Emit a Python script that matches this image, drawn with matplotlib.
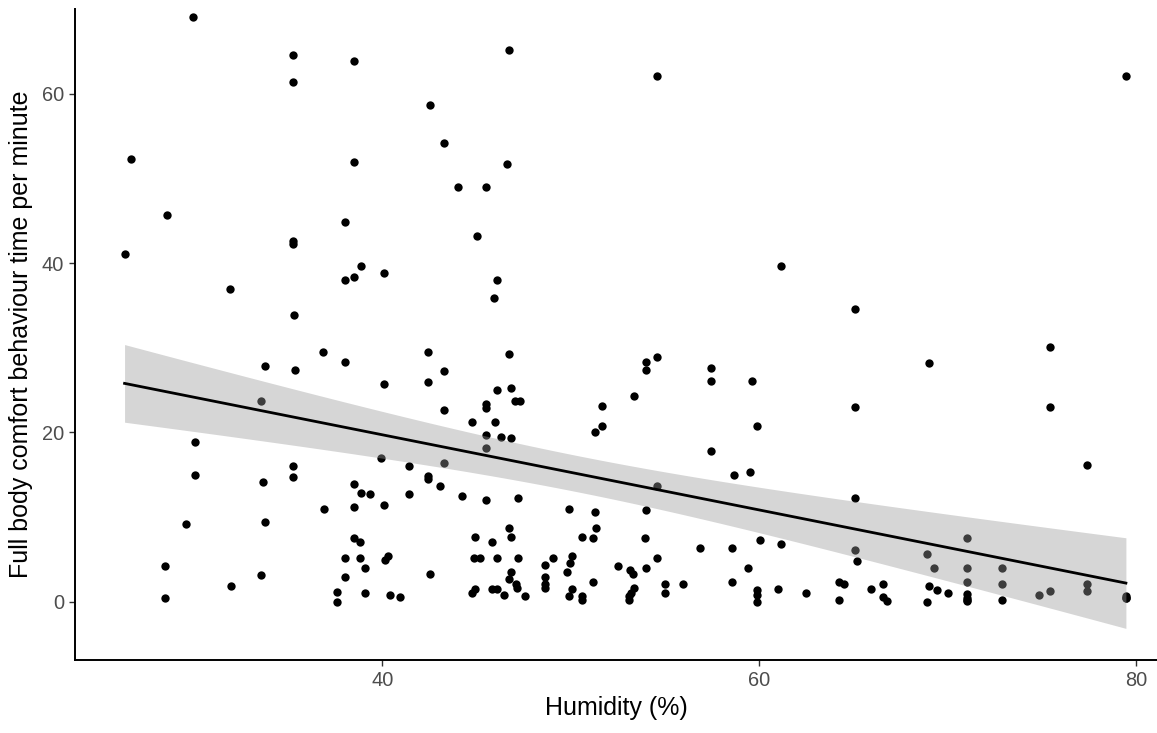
import numpy as np
import matplotlib
matplotlib.use("Agg")
import matplotlib.pyplot as plt

plt.rcParams["font.family"] = ["Liberation Sans", "DejaVu Sans"]

# humidity (%) and comfort behaviour time per minute
humidity = [
    29.95, 35.26, 38.51, 35.26, 26.68, 38.51, 28.55, 38.01, 35.26, 35.26,
    26.32, 38.89, 38.51, 38.01, 31.89, 35.30,
    46.72, 54.55, 42.53, 43.28, 46.62, 44.02, 45.51, 45.03, 40.09, 46.07, 45.94,
    61.17, 65.09, 79.45,
    36.85, 38.01, 33.77, 35.35, 33.56, 30.04, 30.04, 35.26, 35.26, 33.67,
    38.51, 38.89, 39.32, 36.91, 38.51, 29.57, 33.77, 38.51, 38.82, 38.01,
    38.82, 39.09, 28.46, 33.56, 38.01, 31.99, 37.58, 37.58, 39.09, 28.46,
    42.43, 46.71, 43.28, 40.09, 42.43, 53.98, 53.98, 54.55, 46.07, 46.81,
    47.04, 47.31, 45.51, 45.51, 43.28, 44.77, 45.98, 53.34, 51.66, 51.66,
    51.30, 45.51, 46.27, 46.81, 45.51, 39.92, 43.28, 41.42, 42.43, 42.43,
    43.08, 54.55, 41.42, 40.09, 44.21, 45.51, 47.18, 49.89, 51.30, 53.98,
    51.36, 46.72, 46.81, 44.94, 45.79, 50.61, 51.19, 53.91, 40.28, 40.16,
    44.87, 45.19, 46.07, 47.18, 49.05, 50.08, 49.94, 49.80, 48.65, 48.65,
    48.65, 48.65, 54.55, 52.48, 53.15, 53.32, 53.98, 42.53, 46.81, 46.74,
    47.08, 47.13, 51.19, 55.02, 55.02, 44.77, 44.94, 45.79, 46.07, 46.44,
    47.55, 40.39, 40.93, 49.89, 50.05, 50.61, 50.61, 53.08, 53.17, 53.34,
    53.08,
    57.44, 57.44, 59.59, 68.98, 59.87, 65.09, 57.44, 58.67, 59.48, 65.09,
    56.87, 58.57, 60.05, 61.17, 65.09, 65.18, 68.88, 69.26, 71.02, 71.02,
    71.02, 59.40, 55.95, 58.57, 59.87, 59.87, 59.87, 60.97, 62.46, 64.23,
    64.51, 64.23, 65.90, 66.56, 66.56, 66.77, 68.98, 69.45, 70.01, 68.87,
    71.02, 71.02, 71.02, 71.02,
    75.42, 75.42, 77.38, 72.89, 72.89, 72.89, 74.86, 75.41, 77.38, 77.38,
    79.45, 79.45, 79.45,
]
comfort_time = [
    69.1, 64.6, 63.9, 61.4, 52.3, 51.9, 45.65, 44.9, 42.6, 42.3,
    41.1, 39.7, 38.4, 38.0, 36.95, 33.85,
    65.2, 62.07, 58.7, 54.15, 51.7, 48.96, 48.96, 43.2, 38.8, 37.97, 35.9,
    39.67, 34.6, 62.07,
    29.48, 28.3, 27.8, 27.4, 23.65, 18.9, 14.96, 15.98, 14.7, 14.1,
    13.9, 12.9, 12.7, 11.0, 11.2, 9.13, 9.37, 7.5, 7.1, 5.2,
    5.2, 3.98, 4.17, 3.1, 2.9, 1.9, 1.1, 0.0, 1.02, 0.43,
    29.5, 29.3, 27.2, 25.7, 25.9, 28.3, 27.35, 28.85, 24.95, 25.3,
    23.65, 23.65, 23.4, 22.9, 22.6, 21.2, 21.2, 24.3, 23.06, 20.8,
    20.1, 19.7, 19.5, 19.3, 18.1, 17.0, 16.4, 16.0, 14.8, 14.5,
    13.7, 13.7, 12.7, 11.4, 12.5, 12.0, 12.2, 11.0, 10.6, 10.8,
    8.7, 8.7, 7.7, 7.7, 7.1, 7.7, 7.5, 7.5, 5.4, 4.96,
    5.2, 5.2, 5.2, 5.2, 5.2, 5.4, 4.57, 3.54, 4.37, 2.9,
    2.05, 1.6, 5.2, 4.17, 3.78, 3.3, 3.98, 3.3, 3.54, 2.68,
    2.1, 1.6, 2.3, 2.1, 1.0, 1.0, 1.5, 1.5, 1.5, 0.83,
    0.63, 0.83, 0.55, 0.63, 1.5, 0.63, 0.15, 0.15, 1.03, 1.6,
    0.63,
    27.6, 26.1, 26.1, 28.2, 20.74, 23.0, 17.8, 14.96, 15.35, 12.2,
    6.4, 6.4, 7.28, 6.85, 6.06, 4.76, 5.6, 3.98, 7.5, 3.94,
    2.28, 3.94, 2.1, 2.28, 1.42, 0.79, 0.0, 1.46, 1.02, 2.36,
    2.1, 0.2, 1.46, 2.1, 0.55, 0.04, 1.9, 1.42, 1.02, 0.0,
    0.9, 0.5, 0.05, 0.25,
    30.1, 23.0, 16.2, 3.98, 2.1, 0.24, 0.83, 1.22, 2.1, 1.22,
    0.63, 0.4, 0.5,
]

x_ticks = [40, 60, 80]
y_ticks = [0, 20, 40, 60]
T975 = 1.97  # t quantile for 95% band, df ~ 200

x = np.asarray(humidity, dtype=float)
y = np.asarray(comfort_time, dtype=float)

# linear fit with 95% confidence band (like geom_smooth(method = "lm"))
slope, intercept = np.polyfit(x, y, 1)
resid = y - (intercept + slope * x)
n = len(x)
s = np.sqrt(np.sum(resid ** 2) / (n - 2))
sxx = np.sum((x - x.mean()) ** 2)
xs = np.linspace(x.min(), x.max(), 80)
fit = intercept + slope * xs
se = s * np.sqrt(1.0 / n + (xs - x.mean()) ** 2 / sxx)
lo = fit - T975 * se
hi = fit + T975 * se

fig = plt.figure(figsize=(11.57, 7.33), dpi=100)
ax = fig.add_axes([75 / 1157, 73 / 733, 1082 / 1157, 651 / 733])

ax.scatter(x, y, s=36, color="black", linewidths=0, zorder=2)
ax.fill_between(xs, lo, hi, color="#999999", alpha=0.4, linewidth=0, zorder=3)
ax.plot(xs, fit, color="black", linewidth=2.0, zorder=4)

ax.set_xlim(23.69, 81.1)
ax.set_ylim(-6.88, 70.0)
ax.set_xticks(x_ticks)
ax.set_yticks(y_ticks)

for side in ("top", "right"):
    ax.spines[side].set_visible(False)
for side in ("left", "bottom"):
    ax.spines[side].set_linewidth(1.4)
    ax.spines[side].set_color("black")

ax.tick_params(axis="both", length=4.5, width=1.0, color="#333333",
               labelsize=14.4, labelcolor="#4D4D4D", pad=3.5)

ax.set_xlabel("Humidity (%)", fontsize=18, color="black", labelpad=4)
ax.set_ylabel("Full body comfort behaviour time per minute", fontsize=18,
              color="black", labelpad=6)

fig.savefig("out.png", dpi=100, facecolor="white")
